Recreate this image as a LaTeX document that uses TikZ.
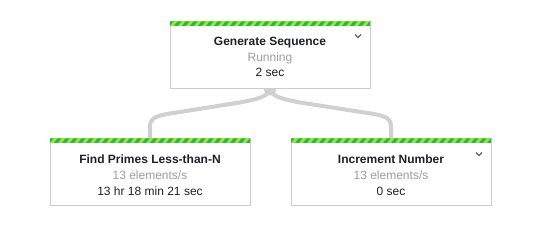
\documentclass[tikz,border=0pt]{standalone}
\usepackage{fontspec}
\setmainfont{Liberation Sans}
\usepackage{xcolor}
\usetikzlibrary{positioning,calc,backgrounds}

\definecolor{boxline}{HTML}{CCCCCC}
\definecolor{edgegray}{HTML}{D0D0D0}
\definecolor{stripegreen}{HTML}{1EB955}
\definecolor{stripelime}{HTML}{A6E236}
\definecolor{subgray}{HTML}{9E9E9E}
\definecolor{maintext}{HTML}{202124}
\definecolor{chevgray}{HTML}{5F6368}

% striped status bar along the top edge of a box
\newcommand{\statusbar}[1]{%
  \begin{scope}
    \clip ($(#1.north west)+(0.5,0.5)$) rectangle ($(#1.north east)+(-0.5,4.5)$);
    \fill[stripelime] ($(#1.north west)+(0,0)$) rectangle ($(#1.north east)+(0,5)$);
    \foreach \i in {0,8,...,216}
      \fill[stripegreen] ($(#1.north west)+(\i,0)$) -- ++(4,0) -- ++(-4,5) -- ++(-4,0) -- cycle;
  \end{scope}}

\begin{document}
\begin{tikzpicture}[x=1pt,y=-1pt,
  every node/.style={font=\fontsize{12}{14}\selectfont, text=maintext},
  stepbox/.style={draw=boxline, line width=1pt, fill=white,
    minimum width=200pt, minimum height=67pt, inner sep=0pt},
  steptitle/.style={anchor=base, font=\fontsize{12}{14}\selectfont\bfseries},
  stepstate/.style={anchor=base, text=subgray},
  steptime/.style={anchor=base},
  edge/.style={draw=edgegray, line width=4pt},
  chev/.style={draw=chevgray, line width=1.1pt}]
  \useasboundingbox (0,0) rectangle (541,240);

  \node[stepbox] (gen) at (270,55.5) {};
  \node[stepbox] (primes) at (150,172.5) {};
  \node[stepbox, right=40pt of primes] (incr) {};

  \statusbar{gen}
  \statusbar{primes}
  \statusbar{incr}

  % Generate Sequence
  \node[steptitle] (gentitle) at ($(gen.north)+(0,24.5)$) {Generate Sequence};
  \node[stepstate] (genstate) at ($(gentitle.base)+(0,15.5)$) {Running};
  \node[steptime] (gentime) at ($(genstate.base)+(0,15.5)$) {2 sec};

  % Find Primes Less-than-N
  \node[steptitle] (primestitle) at ($(primes.north)+(0,25.5)$) {Find Primes Less-than-N};
  \node[stepstate] (primesstate) at ($(primestitle.base)+(0,16)$) {13 elements/s};
  \node[steptime] (primestime) at ($(primesstate.base)+(0,15.5)$) {13 hr 18 min 21 sec};

  % Increment Number
  \node[steptitle] (incrtitle) at ($(incr.north)+(0,25.5)$) {Increment Number};
  \node[stepstate] (incrstate) at ($(incrtitle.base)+(0,16)$) {13 elements/s};
  \node[steptime] (incrtime) at ($(incrstate.base)+(0,15.5)$) {0 sec};

  % expand chevrons
  \draw[chev] ($(gen.north east)+(-15.5,13)$) -- ++(3,3) -- ++(3,-3);
  \draw[chev] ($(incr.north east)+(-15.5,14)$) -- ++(3,3) -- ++(3,-3);

  % connectors
  \begin{scope}[on background layer]
    \coordinate (fork) at ($(gen.south)+(0,1)$);
    \fill[edgegray] (gen.south) circle (6);
    \draw[edge] (fork) .. controls ($(fork)+(-4,7)$) and ($(fork)+(-15,9)$) .. ($(fork)+(-30,12)$)
      -- ($(primes.north)+(20,-25)$)
      .. controls ($(primes.north)+(2,-22)$) and ($(primes.north)+(0,-19)$) .. ($(primes.north)+(0,-11)$)
      -- (primes.north);
    \draw[edge] (fork) .. controls ($(fork)+(4,7)$) and ($(fork)+(15,9)$) .. ($(fork)+(30,12)$)
      -- ($(incr.north)+(-20,-25)$)
      .. controls ($(incr.north)+(-2,-22)$) and ($(incr.north)+(0,-19)$) .. ($(incr.north)+(0,-11)$)
      -- (incr.north);
  \end{scope}
\end{tikzpicture}
\end{document}
